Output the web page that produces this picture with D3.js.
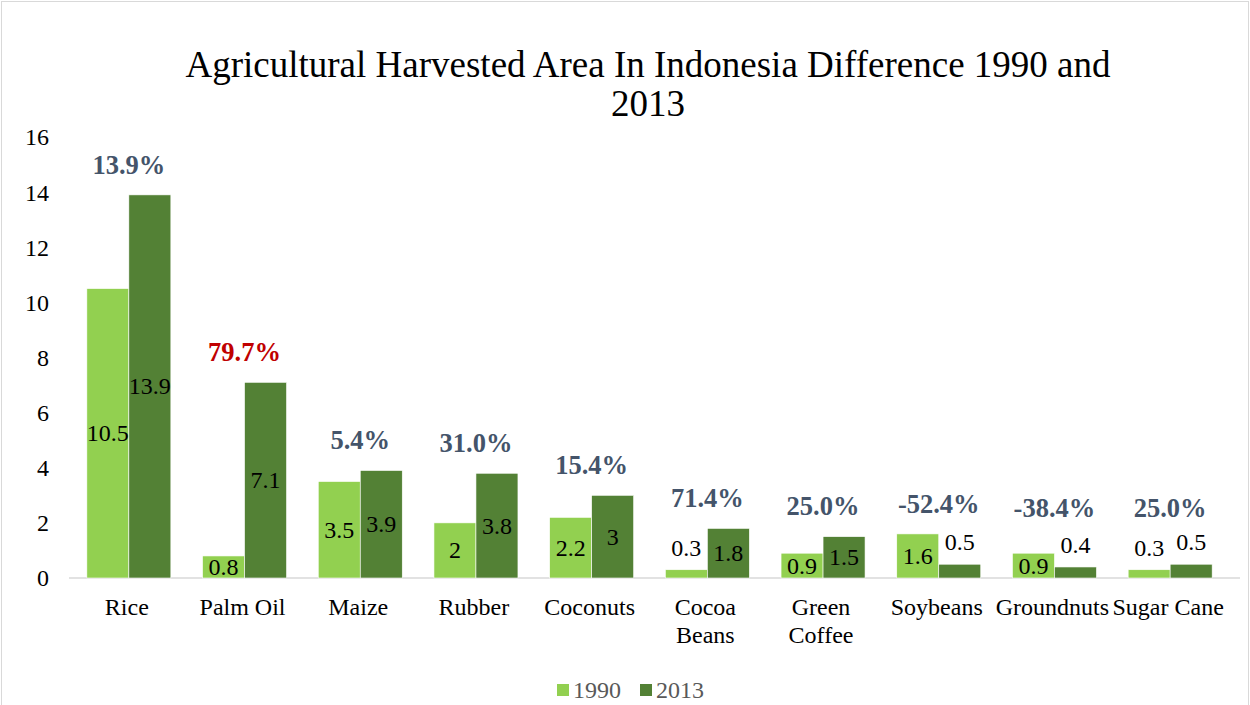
<!DOCTYPE html>
<html><head><meta charset="utf-8">
<script src="https://cdn.jsdelivr.net/npm/d3@7"></script>
<style>body{margin:0;background:#fff}svg{display:block}</style>
</head><body>
<svg id="c" width="1250" height="705"></svg>
<script>
const categories = ["Rice","Palm Oil","Maize","Rubber","Coconuts","Cocoa Beans","Green Coffee","Soybeans","Groundnuts","Sugar Cane"];
const categoryLines = [["Rice"],["Palm Oil"],["Maize"],["Rubber"],["Coconuts"],["Cocoa","Beans"],["Green","Coffee"],["Soybeans"],["Groundnuts"],["Sugar Cane"]];
const series = ["1990","2013"];
const values1990 = [10.5,0.8,3.5,2,2.2,0.3,0.9,1.6,0.9,0.3];
const values2013 = [13.9,7.1,3.9,3.8,3,1.8,1.5,0.5,0.4,0.5];
const changeLabels = ["13.9%","79.7%","5.4%","31.0%","15.4%","71.4%","25.0%","-52.4%","-38.4%","25.0%"];
const yTicks = [0,2,4,6,8,10,12,14,16];
const title = ["Agricultural Harvested Area In Indonesia Difference 1990 and","2013"];

const colors = {"1990":"#92D050","2013":"#538135"};
const font = "'Liberation Serif','Times New Roman',serif";
const svg = d3.select("#c");

svg.append("rect").attr("x",1.5).attr("y",1.5).attr("width",1247).attr("height",710)
  .attr("fill","#fff").attr("stroke","#D9D9D9").attr("stroke-width",1);

const x0 = d3.scaleBand().domain(categories).range([71,1228]).padding(0);
const bw = x0.bandwidth();
const x1 = d3.scaleBand().domain(series).range([bw*0.137, bw*0.863]).padding(0);
const y = d3.scaleLinear().domain([0,16]).range([578,137]);

// title
svg.append("text").attr("x",648).attr("y",77).attr("text-anchor","middle")
  .attr("font-family",font).attr("font-size",37).attr("fill","#000")
  .selectAll("tspan").data(title).join("tspan")
  .attr("x",648).attr("dy",(d,i)=>i===0?0:39).text(d=>d);

// y axis labels
const yAxis = d3.axisLeft(y).tickValues(yTicks).tickSize(0).tickPadding(0);
const gy = svg.append("g").attr("transform","translate(49,0)").call(yAxis);
gy.select(".domain").remove();
gy.selectAll("text").attr("font-family",font).attr("font-size",24).attr("fill","#000").attr("dy","0.33em");

// baseline
svg.append("line").attr("x1",69).attr("x2",1240).attr("y1",y(0)).attr("y2",y(0))
  .attr("stroke","#D9D9D9").attr("stroke-width",1.5);

const rows = categories.map((c,i)=>({c, i, vals:[{s:"1990",v:values1990[i]},{s:"2013",v:values2013[i]}]}));

const groups = svg.append("g").selectAll("g").data(rows).join("g")
  .attr("transform",d=>`translate(${x0(d.c)},0)`);

groups.selectAll("rect").data(d=>d.vals).join("rect")
  .attr("x",d=>x1(d.s)).attr("width",x1.bandwidth())
  .attr("y",d=>y(d.v)).attr("height",d=>y(0)-y(d.v))
  .attr("fill",d=>colors[d.s]).attr("stroke","#fff").attr("stroke-width",0.6);

// value labels
groups.selectAll("text.val").data(d=>d.vals).join("text").attr("class","val")
  .attr("x",d=>x1(d.s)+x1.bandwidth()/2)
  .attr("y",d=> d.v < 0.7 ? y(d.v)-22 : y(d.v/2))
  .attr("dy","0.33em").attr("text-anchor","middle")
  .attr("font-family",font).attr("font-size",24).attr("fill","#000")
  .text(d=>d.v);

// change labels
groups.append("text")
  .attr("x",bw/2)
  .attr("y",d=>Math.min(y(Math.max(...d.vals.map(v=>v.v)))-30, 508))
  .attr("dy","0.33em").attr("text-anchor","middle")
  .attr("font-family",font).attr("font-size",26.5).attr("font-weight","bold")
  .attr("fill",d=>d.c==="Palm Oil"?"#C00000":"#44546A")
  .text(d=>changeLabels[d.i]);

// category labels
groups.append("text").attr("text-anchor","middle")
  .attr("font-family",font).attr("font-size",24).attr("fill","#000")
  .selectAll("tspan").data(d=>categoryLines[d.i]).join("tspan")
  .attr("x",bw/2-2).attr("y",(d,i)=>615+i*28).text(d=>d);

// legend
const legend = svg.append("g");
const items = [{s:"1990",x:557},{s:"2013",x:640}];
items.forEach(it=>{
  legend.append("rect").attr("x",it.x).attr("y",684).attr("width",12).attr("height",12).attr("fill",colors[it.s]);
  legend.append("text").attr("x",it.x+16).attr("y",698)
    .attr("font-family",font).attr("font-size",24).attr("fill","#595959").text(it.s);
});
</script>
</body></html>
